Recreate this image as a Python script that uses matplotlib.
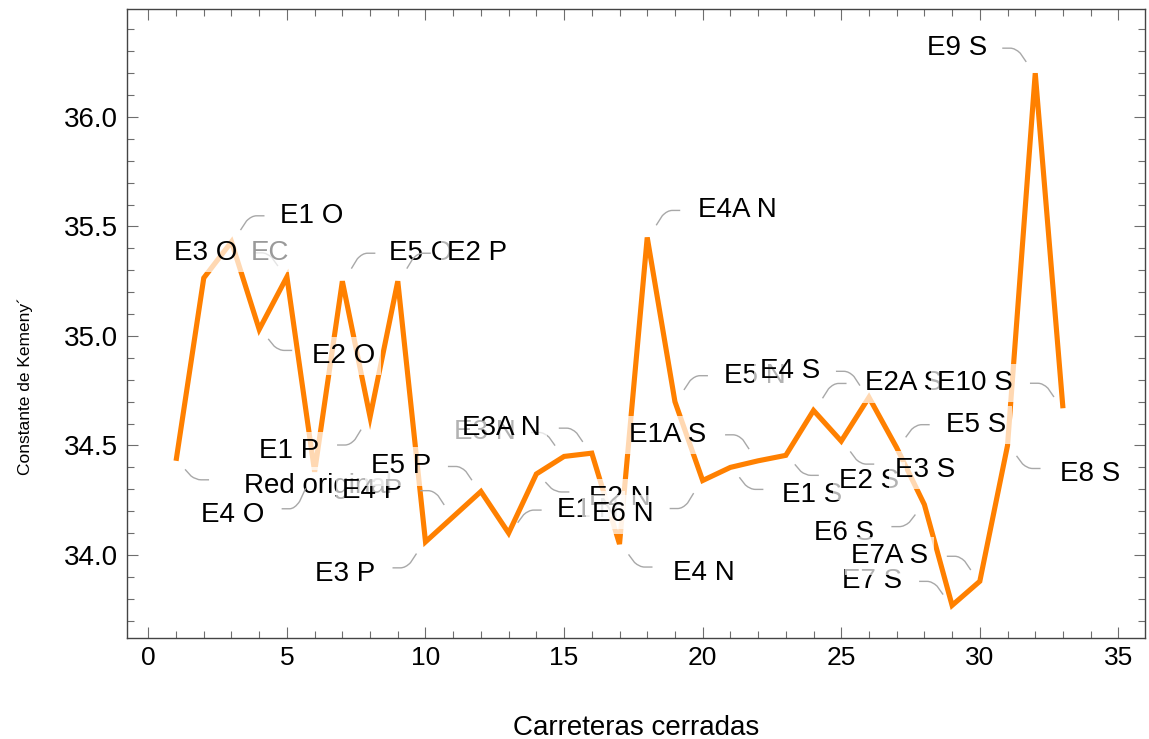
import matplotlib
matplotlib.use("Agg")
import matplotlib.pyplot as plt
from matplotlib import font_manager
from matplotlib.path import Path
from matplotlib.patches import PathPatch
from matplotlib.ticker import MultipleLocator, FormatStrFormatter
from matplotlib.transforms import IdentityTransform

# Kemeny constant of the network after closing each road
closed_roads = list(range(1, 34))
kemeny = [34.43, 35.265, 35.43, 35.03, 35.27, 34.38, 35.25, 34.63, 35.25, 34.06,
          34.175, 34.29, 34.10, 34.37, 34.45, 34.465, 34.05, 35.45, 34.70, 34.34,
          34.40, 34.43, 34.455, 34.66, 34.52, 34.72, 34.49, 34.23, 33.77, 33.88,
          34.50, 36.20, 34.67]
road_names = ["Red original", "E3 O", "E1 O", "E2 O", "EC", "E4 O", "E5 O", "E1 P",
              "E2 P", "E3 P", "E4 P", "E5 P", "E1 N", "E2 N", "E3 N", "E3A N",
              "E4 N", "E4A N", "E5 N", "E6 N", "E1 S", "E1A S", "E2 S", "E2A S",
              "E3 S", "E4 S", "E5 S", "E6 S", "E7 S", "E7A S", "E8 S", "E9 S", "E10 S"]
x_ticks = [0, 5, 10, 15, 20, 25, 30, 35]
y_ticks = [34.0, 34.5, 35.0, 35.5, 36.0]
x_title = "Carreteras cerradas"
y_title = "Constante de Kemeny\u00b4"

# callout placement: label centre offset from its point, in pixels (x right, y up)
label_offsets = [(142, -22), (2, 28), (80, 29), (84, -24), (-17, 27), (-82, -40),
                 (78, 31), (-81, -31), (79, 31), (-80, -29), (-81, 29), (-80, 28),
                 (79, 26), (83, -21), (-79, 27), (-90, 28), (84, -26), (90, 30),
                 (80, 29), (-80, -31), (82, -25), (-90, 29), (83, -23), (90, 30),
                 (84, -26), (-79, 29), (79, 26), (-80, -25), (-80, 27), (-90, 28),
                 (83, -26), (-78, 28), (-88, 28)]
no_leader = {"E3 O"}
grey_labels = {"EC"}


def has_font(name):
    try:
        font_manager.findfont(font_manager.FontProperties(family=name),
                              fallback_to_default=False)
        return True
    except Exception:
        return False


SANS = ["Liberation Sans", "DejaVu Sans"]
NARROW = ["Liberation Sans Narrow", "DejaVu Sans"] if has_font("Liberation Sans Narrow") else None

W, H = 1149, 739
fig = plt.figure(figsize=(W / 100, H / 100), dpi=100)
L, R, T, B = 127, 1145, 9, 638
ax = fig.add_axes([L / W, 1 - B / H, (R - L) / W, (B - T) / H])

ax.plot(closed_roads, kemeny, color="#ff8000", lw=3.7,
        solid_joinstyle="miter", solid_capstyle="butt", zorder=2)

ax.set_xlim(-0.77, 35.96)
ax.set_ylim(33.621, 36.493)
ax.set_xticks(x_ticks)
ax.set_yticks(y_ticks)
ax.xaxis.set_minor_locator(MultipleLocator(1))
ax.yaxis.set_minor_locator(MultipleLocator(0.1))
ax.yaxis.set_major_formatter(FormatStrFormatter("%.1f"))

for s in ax.spines.values():
    s.set_color("#444444")
    s.set_linewidth(1.0)
ax.tick_params(which="both", direction="in", top=True, right=True,
               color="#6e6e6e", width=0.8)
ax.tick_params(which="major", length=7.9)
ax.tick_params(which="minor", length=4.7)
ax.tick_params(axis="y", pad=6.5)
ax.tick_params(axis="x", pad=6)

for lab in ax.get_yticklabels():
    lab.set_family(SANS)
    lab.set_fontsize(20)
for lab in ax.get_xticklabels():
    if NARROW:
        lab.set_family(NARROW)
        lab.set_fontsize(21.5)
    else:
        lab.set_family(SANS)
        lab.set_fontsize(19)

ax.set_xlabel(x_title, family=SANS, fontsize=20)
ax.xaxis.label.set_verticalalignment("baseline")
ax.xaxis.set_label_coords((636 - L) / (R - L), (B - 735) / (B - T))

if NARROW:
    ax.set_ylabel(y_title, family=NARROW, fontsize=15)
else:
    ax.set_ylabel(y_title, family=SANS, fontsize=12.5)
ax.yaxis.label.set_verticalalignment("center")
ax.yaxis.set_label_coords((25 - L) / (R - L), (B - 386) / (B - T))

# callouts with leader lines and translucent label backgrounds
FS = 20
cap_half = 0.358 * FS * 100 / 72
for i, (x, y, name, (dx, dy)) in enumerate(zip(closed_roads, kemeny,
                                               road_names, label_offsets)):
    z = 3 + i * 0.01
    ax.annotate(name, xy=(x, y), xytext=(dx, dy - cap_half),
                textcoords="offset pixels", ha="center", va="baseline",
                fontsize=FS, family=SANS,
                color="#9a9a9a" if name in grey_labels else "black",
                bbox=dict(boxstyle="square,pad=0.22", fc="white", ec="none",
                          alpha=0.7),
                zorder=z, annotation_clip=False)
    if name in no_leader:
        continue
    px, py = ax.transData.transform((x, y))
    sx = 1 if dx > 0 else -1
    sy = 1 if dy > 0 else -1
    hy = dy - 3 * sy
    verts = [(px + sx * 9, py + 0.45 * hy),
             (px + sx * 15, py + 0.8 * hy),
             (px + sx * 20, py + hy),
             (px + sx * 25, py + hy),
             (px + sx * 33, py + hy)]
    codes = [Path.MOVETO, Path.LINETO, Path.CURVE3, Path.CURVE3, Path.LINETO]
    leader = PathPatch(Path(verts, codes), transform=IdentityTransform(),
                       fill=False, ec="#a8a8a8", lw=1.0, zorder=z - 0.005,
                       clip_on=False)
    ax.add_patch(leader)

fig.savefig("out.png", dpi=100)
